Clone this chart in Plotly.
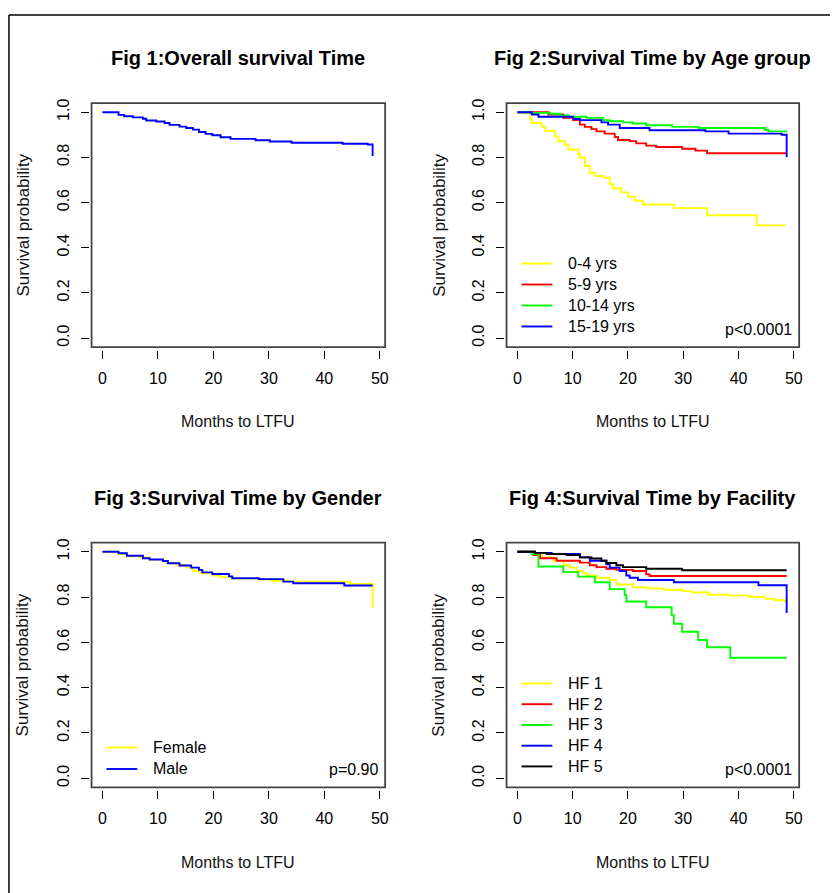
import plotly.graph_objects as go

# ---------------- data ----------------
# Fig 1: overall
t_all = [0, 2.9, 3.9, 5.5, 7.3, 7.9, 9.7, 11.2, 12.1, 13.9, 15.1, 16.3, 17.4, 18.6, 19.8, 21.3, 23.1, 27.6, 30.2, 34.1, 43.3, 47.8, 48.7]
s_all = [1.0, 0.988, 0.982, 0.977, 0.971, 0.963, 0.959, 0.952, 0.944, 0.936, 0.930, 0.923, 0.912, 0.904, 0.898, 0.889, 0.882, 0.876, 0.870, 0.865, 0.860, 0.857, 0.806]

# Fig 2: age group
t_age04 = [0, 2.3, 2.6, 4.4, 5.0, 6.8, 7.4, 8.6, 9.2, 11.0, 11.3, 12.2, 13.1, 14.0, 15.5, 16.7, 17.3, 18.8, 20.0, 21.2, 22.7, 28.3, 34.3, 43.3, 48.5]
s_age04 = [1.0, 0.97, 0.952, 0.935, 0.918, 0.893, 0.871, 0.854, 0.835, 0.815, 0.798, 0.762, 0.732, 0.718, 0.711, 0.681, 0.662, 0.645, 0.626, 0.608, 0.591, 0.575, 0.544, 0.499, 0.499]
t_age59 = [0, 5.6, 8.3, 10.1, 11.3, 12.2, 13.4, 14.3, 15.8, 17.6, 18.2, 20.3, 21.5, 23.3, 25.1, 29.8, 32.2, 34.3, 48.7]
s_age59 = [1.0, 0.99, 0.975, 0.965, 0.945, 0.935, 0.925, 0.915, 0.905, 0.89, 0.877, 0.872, 0.862, 0.852, 0.846, 0.838, 0.83, 0.818, 0.818]
t_age1014 = [0, 2.3, 5.9, 7.7, 9.2, 12.5, 15.5, 16.7, 19.1, 20.9, 23.3, 28.0, 32.8, 44.8, 45.4, 48.8]
s_age1014 = [1.0, 0.997, 0.993, 0.985, 0.98, 0.975, 0.965, 0.96, 0.955, 0.95, 0.942, 0.935, 0.93, 0.922, 0.915, 0.915]
t_age1519 = [0, 2.6, 3.8, 10.1, 11.3, 15.2, 16.4, 18.5, 23.9, 34.0, 38.2, 47.8, 48.7]
s_age1519 = [1.0, 0.99, 0.98, 0.97, 0.965, 0.955, 0.945, 0.93, 0.92, 0.915, 0.905, 0.90, 0.80]

# Fig 3: gender
t_female = [0, 2.9, 4.4, 6.8, 8.5, 10.9, 11.5, 13.3, 15.1, 16.3, 17.7, 19.8, 21.3, 23.4, 28.2, 30.5, 33.5, 44.2, 44.8, 48.7]
s_female = [1.0, 0.99, 0.98, 0.975, 0.965, 0.96, 0.95, 0.94, 0.93, 0.915, 0.905, 0.895, 0.888, 0.882, 0.877, 0.872, 0.868, 0.865, 0.858, 0.751]
t_male = [0, 2.9, 4.4, 7.3, 8.5, 10.9, 11.8, 13.9, 16.0, 17.4, 18.0, 19.8, 22.8, 23.4, 28.2, 32.6, 34.4, 43.6, 48.7]
s_male = [1.0, 0.993, 0.982, 0.971, 0.966, 0.959, 0.949, 0.939, 0.93, 0.92, 0.909, 0.902, 0.891, 0.883, 0.879, 0.868, 0.861, 0.851, 0.851]

# Fig 4: facility
t_hf1 = [0, 2.9, 4.4, 6.5, 8.3, 9.5, 10.7, 11.9, 12.5, 14.3, 16.7, 17.9, 20.9, 23.3, 26.3, 29.8, 31.6, 34.6, 38.2, 42.0, 44.8, 46.6, 48.4, 48.7]
s_hf1 = [1.0, 0.99, 0.975, 0.96, 0.94, 0.93, 0.915, 0.905, 0.895, 0.885, 0.875, 0.855, 0.843, 0.838, 0.832, 0.826, 0.82, 0.81, 0.806, 0.80, 0.792, 0.786, 0.78, 0.778]
t_hf2 = [0, 2.9, 4.1, 7.1, 11.3, 13.1, 14.3, 16.1, 17.9, 20.9, 23.3, 23.9, 48.7]
s_hf2 = [1.0, 0.985, 0.971, 0.96, 0.952, 0.94, 0.932, 0.925, 0.92, 0.915, 0.90, 0.893, 0.893]
t_hf3 = [0, 2.6, 3.8, 8.3, 11.0, 14.0, 16.7, 19.4, 19.7, 23.3, 27.9, 28.3, 29.8, 32.7, 34.3, 38.5, 48.7]
s_hf3 = [1.0, 0.99, 0.935, 0.91, 0.89, 0.865, 0.835, 0.81, 0.78, 0.755, 0.72, 0.682, 0.647, 0.61, 0.578, 0.532, 0.532]
t_hf4 = [0, 3.2, 6.2, 11.3, 13.1, 16.1, 16.7, 18.5, 19.7, 20.3, 21.8, 28.3, 43.6, 48.7]
s_hf4 = [1.0, 0.995, 0.99, 0.975, 0.96, 0.945, 0.93, 0.915, 0.895, 0.885, 0.875, 0.865, 0.852, 0.73]
t_hf5 = [0, 3.2, 5.3, 8.9, 11.3, 13.4, 15.2, 16.1, 17.9, 19.1, 23.3, 29.8, 48.7]
s_hf5 = [1.0, 0.995, 0.99, 0.985, 0.975, 0.97, 0.96, 0.95, 0.94, 0.932, 0.925, 0.918, 0.918]

x_ticks = [0, 10, 20, 30, 40, 50]
y_ticks = [0.0, 0.2, 0.4, 0.6, 0.8, 1.0]
titles = ["Fig 1:Overall survival Time", "Fig 2:Survival Time by Age group",
          "Fig 3:Survival Time by Gender", "Fig 4:Survival Time by Facility"]
p_values = [None, "p<0.0001", "p=0.90", "p<0.0001"]
x_title = "Months to LTFU"
y_title = "Survival probability"

YELLOW, RED, GREEN, BLUE, BLACK = "#FFFF00", "#FF0000", "#00FF00", "#0000FF", "#000000"

panels = [
    [(t_all, s_all, "All", BLUE)],
    [(t_age04, s_age04, "0-4 yrs", YELLOW), (t_age59, s_age59, "5-9 yrs", RED),
     (t_age1014, s_age1014, "10-14 yrs", GREEN), (t_age1519, s_age1519, "15-19 yrs", BLUE)],
    [(t_female, s_female, "Female", YELLOW), (t_male, s_male, "Male", BLUE)],
    [(t_hf1, s_hf1, "HF 1", YELLOW), (t_hf2, s_hf2, "HF 2", RED), (t_hf3, s_hf3, "HF 3", GREEN),
     (t_hf4, s_hf4, "HF 4", BLUE), (t_hf5, s_hf5, "HF 5", BLACK)],
]

# ---------------- layout geometry (pixels) ----------------
W, H = 834, 893
FONT = "Liberation Sans, Arial, Helvetica, sans-serif"
xdoms = [[92 / W, 387 / W], [509 / W, 803 / W]]
ydoms = [[1 - 344 / H, 1 - 98.7 / H], [1 - 786.7 / H, 1 - 540.7 / H]]
GAP_X = 2.5 / H
GAP_Y = 2.5 / W
# in-plot legend placement: (line x0, line x1, text x, first row y, row step)
legend_pos = [None, (524, 555, 569, 260, 21.1), (107, 138, 152, 746.7, 21.6), (524, 555, 569, 682.3, 20.85)]

fig = go.Figure()
layout = dict(width=W, height=H, margin=dict(l=0, r=0, t=0, b=0),
              paper_bgcolor="white", plot_bgcolor="white",
              font=dict(family=FONT, color="black"), showlegend=False)
annotations = []
shapes = []

for i in range(4):
    r, c = divmod(i, 2)
    n = i + 1
    xa = "x" if n == 1 else f"x{n}"
    ya = "y" if n == 1 else f"y{n}"
    xd, yd = xdoms[c], ydoms[r]
    layout[f"xaxis{'' if n == 1 else n}"] = dict(
        domain=xd, range=[-1.96, 50.96], anchor="free", position=yd[0] - GAP_X,
        tickvals=x_ticks, ticks="outside", ticklen=8, tickwidth=1.2, tickcolor="black",
        showline=False, showgrid=False, zeroline=False,
        tickfont=dict(size=16, color="black"), ticklabelstandoff=6)
    layout[f"yaxis{'' if n == 1 else n}"] = dict(
        domain=yd, range=[-0.04, 1.04], anchor="free", position=xd[0] - GAP_Y,
        tickvals=y_ticks, tickformat=".1f", ticks="outside", ticklen=8, tickwidth=1.2,
        tickcolor="black", showline=False, showgrid=False, zeroline=False,
        tickangle=-90, tickfont=dict(size=16, color="black"), ticklabelstandoff=6)
    for (t, s, name, col) in panels[i]:
        fig.add_trace(go.Scatter(
            x=t, y=s, mode="lines", line=dict(color=col, width=1.9, shape="hv"),
            name=name, xaxis=xa, yaxis=ya))
    # plot box
    shapes.append(dict(type="rect", xref=f"{xa} domain", yref=f"{ya} domain",
                       x0=0, x1=1, y0=0, y1=1, line=dict(color="#444444", width=1.8)))
    annotations.append(dict(text=f"<b>{titles[i]}</b>", xref=f"{xa} domain", yref=f"{ya} domain",
                            x=0.5, y=1.184, xanchor="center", yanchor="middle", showarrow=False,
                            font=dict(size=20, color="black")))
    annotations.append(dict(text=x_title, xref=f"{xa} domain", yref=f"{ya} domain",
                            x=0.5, y=-0.307, xanchor="center", yanchor="middle", showarrow=False,
                            font=dict(size=16, color="#111111")))
    annotations.append(dict(text=y_title, xref=f"{xa} domain", yref=f"{ya} domain",
                            x=-0.232, y=0.5, xanchor="center", yanchor="middle", showarrow=False,
                            textangle=-90, font=dict(size=17, color="#111111")))
    if p_values[i]:
        annotations.append(dict(text=p_values[i], xref=f"{xa} domain", yref=f"{ya} domain",
                                x=0.983, y=0.073, xanchor="right", yanchor="middle", showarrow=False,
                                font=dict(size=16, color="black")))
    # legend (R-style, inside the plot box)
    if legend_pos[i]:
        lx0, lx1, tx, y0, dy = legend_pos[i]
        for k, (t, s, name, col) in enumerate(panels[i]):
            yy = 1 - (y0 + k * dy) / H
            shapes.append(dict(type="line", xref="paper", yref="paper", x0=lx0 / W, x1=lx1 / W,
                               y0=yy, y1=yy, line=dict(color=col, width=1.9)))
            annotations.append(dict(text=name, xref="paper", yref="paper", x=tx / W, y=yy,
                                    xanchor="left", yanchor="middle", showarrow=False,
                                    font=dict(size=16, color="black")))

# outer frame (top and left edges of the cropped figure border)
shapes.append(dict(type="line", xref="paper", yref="paper", x0=9 / W, x1=1, y0=1 - 10 / H, y1=1 - 10 / H,
                   line=dict(color="black", width=1.5)))
shapes.append(dict(type="line", xref="paper", yref="paper", x0=9 / W, x1=9 / W, y0=0, y1=1 - 10 / H,
                   line=dict(color="black", width=1.5)))

layout["annotations"] = annotations
layout["shapes"] = shapes
fig.update_layout(**layout)
fig.write_html("out.html", config={"displayModeBar": False},
               post_script="document.body.style.margin='0px';")
